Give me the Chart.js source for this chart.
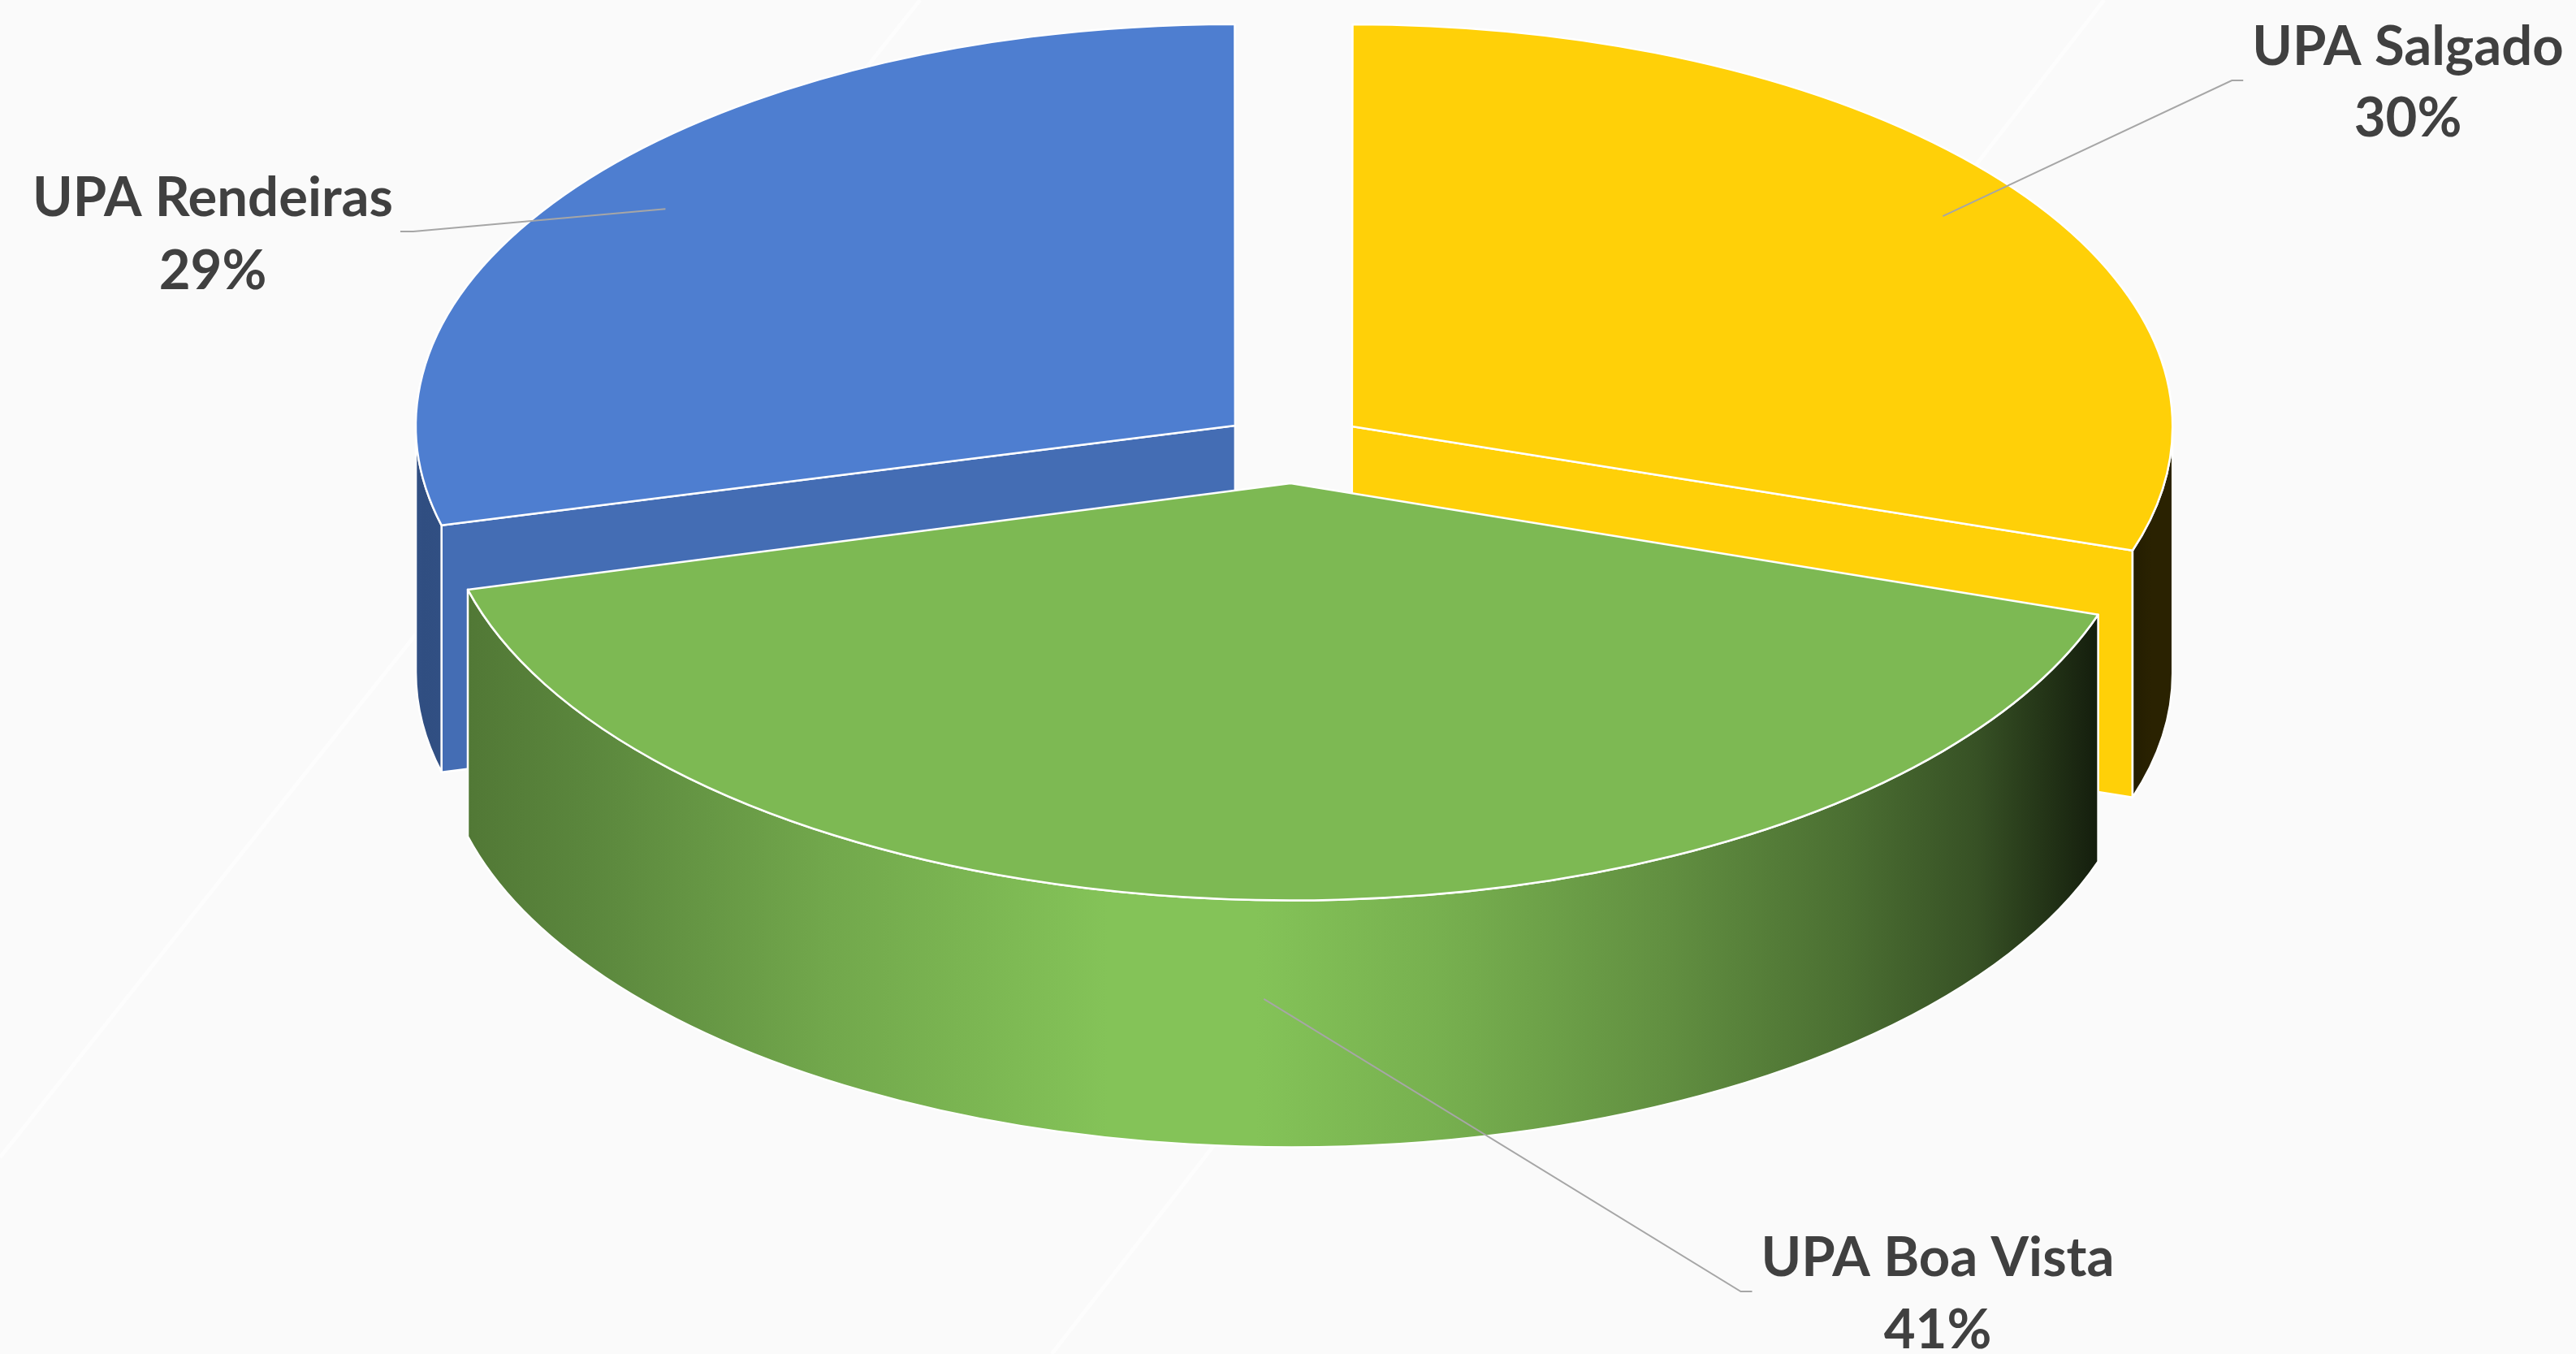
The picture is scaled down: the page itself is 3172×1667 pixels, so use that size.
<!DOCTYPE html>
<html><head><meta charset="utf-8">
<script src="https://cdn.jsdelivr.net/npm/chart.js@4.4.1/dist/chart.umd.min.js"></script>
<style>html,body{margin:0;padding:0;background:#FAFAFA;overflow:hidden}canvas{display:block}</style>
</head><body>
<canvas id="c" width="3172" height="1667"></canvas>
<script>
// ---- data ----
const categories = ['UPA Salgado', 'UPA Boa Vista', 'UPA Rendeiras'];
const shares = [30, 41, 29];
const percentLabels = ['30%', '41%', '29%'];
const sliceColors = ['#FFD008', '#7DB953', '#4E7ED0'];

// ---- view / style (not data) ----
const view = { k: 0.49, centerY: 551, depth: 304, explode: 360, radius: 1006 };
const labelLayout = [
  { x: 2965, y1: 80, y2: 168, side: 'right', anchorR: 0.89, anchorZ: 0 },
  { x: 2386, y1: 1571, y2: 1660, side: 'right', anchorR: 1.0, anchorZ: 0.40 },
  { x: 262, y1: 266, y2: 356, side: 'left', anchorR: 0.88, anchorZ: 0 }
];
const wallShade = [[0,0.70],[0.03,0.62],[0.12,0.73],[0.25,0.91],[0.40,1.055],[0.48,1.055],[0.58,0.95],[0.70,0.78],[0.80,0.60],[0.87,0.44],[0.91,0.27],[0.945,0.12],[0.965,0.165],[1,0.165]];

function shade(hex, m) {
  const n = parseInt(hex.slice(1), 16);
  const f = v => Math.max(0, Math.min(255, Math.round(v * m)));
  return 'rgb(' + f((n >> 16) & 255) + ',' + f((n >> 8) & 255) + ',' + f(n & 255) + ')';
}

function geom(el) {
  const off = (el.options.offset || 0) / 4;
  const circ = el.endAngle - el.startAngle;
  const fix = 1 - Math.sin(Math.min(Math.PI, circ));
  const rOff = off * fix;
  const R = el.outerRadius + rOff;
  const beta = Math.max(0.001, circ * R - rOff / Math.PI) / R;
  const ao = (circ - beta) / 2;
  const mid = (el.startAngle + el.endAngle) / 2;
  return { R, a0: el.startAngle + ao, a1: el.endAngle - ao, mid,
           vx: el.x + Math.cos(mid) * off, vy: el.y + Math.sin(mid) * off, off };
}

const pie3d = {
  id: 'pie3d',
  beforeDraw(chart) {
    const ctx = chart.ctx;
    ctx.save();
    ctx.fillStyle = '#FAFAFA';
    ctx.fillRect(0, 0, chart.width, chart.height);
    ctx.strokeStyle = 'rgba(255,255,255,0.55)';
    ctx.lineWidth = 5;
    ctx.beginPath();
    ctx.moveTo(1133, 0); ctx.lineTo(0, 1425);
    ctx.moveTo(2591, 0); ctx.lineTo(1295, 1667);
    ctx.stroke();
    ctx.restore();
  },
  beforeDatasetsDraw(chart) {
    const ctx = chart.ctx;
    const meta = chart.getDatasetMeta(0);
    const k = view.k, D = view.depth;
    const els = meta.data;
    const cy = els[0].y;
    const sy = y => view.centerY + (y - cy) * k;
    const gs = els.map(geom);
    const maxR = Math.max(...gs.map(g => g.R)) + gs[0].off;
    const xmin = els[0].x - maxR, xmax = els[0].x + maxR;
    const order = gs.map((g, i) => i).sort((a, b) => Math.sin(gs[a].mid) - Math.sin(gs[b].mid));
    ctx.save();
    ctx.lineWidth = 2.5;
    ctx.strokeStyle = '#FFFFFF';
    ctx.lineJoin = 'round';
    for (const i of order) {
      const g = gs[i];
      const base = sliceColors[i];
      const X = g.vx, Y = sy(g.vy), rx = g.R, ry = g.R * k;
      const faces = [];
      if (Math.cos(g.a0) < -1e-6) faces.push({ a: g.a0, n: g.a0 - Math.PI / 2 });
      if (Math.cos(g.a1) > 1e-6) faces.push({ a: g.a1, n: g.a1 + Math.PI / 2 });
      for (const f of faces) {
        const px = X + rx * Math.cos(f.a), py = Y + ry * Math.sin(f.a);
        ctx.beginPath();
        ctx.moveTo(X, Y); ctx.lineTo(px, py); ctx.lineTo(px, py + D); ctx.lineTo(X, Y + D); ctx.closePath();
        ctx.fillStyle = shade(base, Math.min(1.0, 0.94 - 0.3 * Math.cos(f.n)));
        ctx.fill(); ctx.stroke();
      }
      const t1 = Math.max(g.a0, 0), t2 = Math.min(g.a1, Math.PI);
      if (t2 > t1) {
        ctx.beginPath();
        ctx.ellipse(X, Y, rx, ry, 0, t1, t2, false);
        ctx.lineTo(X + rx * Math.cos(t2), Y + D + ry * Math.sin(t2));
        ctx.ellipse(X, Y + D, rx, ry, 0, t2, t1, true);
        ctx.closePath();
        const grad = ctx.createLinearGradient(xmin, 0, xmax, 0);
        for (const [p, m] of wallShade) grad.addColorStop(p, shade(base, m));
        ctx.fillStyle = grad;
        ctx.fill(); ctx.stroke();
      }
    }
    ctx.restore();
    ctx.save();
    ctx.translate(0, view.centerY);
    ctx.scale(1, k);
    ctx.translate(0, -cy);
  },
  afterDatasetsDraw(chart) {
    const ctx = chart.ctx;
    ctx.restore();
    const meta = chart.getDatasetMeta(0);
    const k = view.k, D = view.depth;
    const els = meta.data;
    const cy = els[0].y;
    const sy = y => view.centerY + (y - cy) * k;
    els.forEach(el => {
      const g = geom(el);
      ctx.save();
      ctx.translate(0, view.centerY); ctx.scale(1, k); ctx.translate(0, -cy);
      ctx.beginPath();
      ctx.moveTo(g.vx, g.vy);
      ctx.lineTo(g.vx + g.R * Math.cos(g.a0), g.vy + g.R * Math.sin(g.a0));
      ctx.arc(g.vx, g.vy, g.R, g.a0, g.a1);
      ctx.closePath();
      ctx.restore();
      ctx.save();
      ctx.lineWidth = 2.5; ctx.strokeStyle = '#FFFFFF'; ctx.lineJoin = 'round';
      ctx.stroke();
      ctx.restore();
    });
    ctx.save();
    ctx.font = 'bold 67px Lato';
    els.forEach((el, i) => {
      const g = geom(el);
      const L = labelLayout[i];
      const ax = g.vx + L.anchorR * g.R * Math.cos(g.mid);
      const ay = sy(g.vy + L.anchorR * g.R * Math.sin(g.mid)) + L.anchorZ * D;
      const w1 = ctx.measureText(categories[i]).width;
      let ex, bx;
      if (L.side === 'right') { ex = L.x - w1 / 2 - 11; bx = ex - 14; }
      else { ex = L.x + w1 / 2 + 9; bx = ex + 16; }
      const ey = L.y1 + 19;
      ctx.beginPath();
      ctx.moveTo(ax, ay); ctx.lineTo(bx, ey); ctx.lineTo(ex, ey);
      ctx.strokeStyle = '#A6A6A6'; ctx.lineWidth = 2;
      ctx.stroke();
      ctx.fillStyle = '#404040';
      ctx.textAlign = 'center'; ctx.textBaseline = 'alphabetic';
      ctx.fillText(categories[i], L.x, L.y1);
      ctx.fillText(percentLabels[i], L.x, L.y2);
    });
    ctx.restore();
  }
};

new Chart(document.getElementById('c').getContext('2d'), {
  type: 'pie',
  data: {
    labels: categories,
    datasets: [{ data: shares, backgroundColor: sliceColors, borderWidth: 0,
                 offset: view.explode, hoverOffset: 0, clip: false, radius: view.radius }]
  },
  options: {
    responsive: false, animation: false, devicePixelRatio: 1,
    radius: view.radius,
    layout: { padding: { left: 12, right: 0, top: 0, bottom: 0 } },
    events: [],
    plugins: { legend: { display: false }, tooltip: { enabled: false }, title: { display: false } }
  },
  plugins: [pie3d]
});
</script>
</body></html>
